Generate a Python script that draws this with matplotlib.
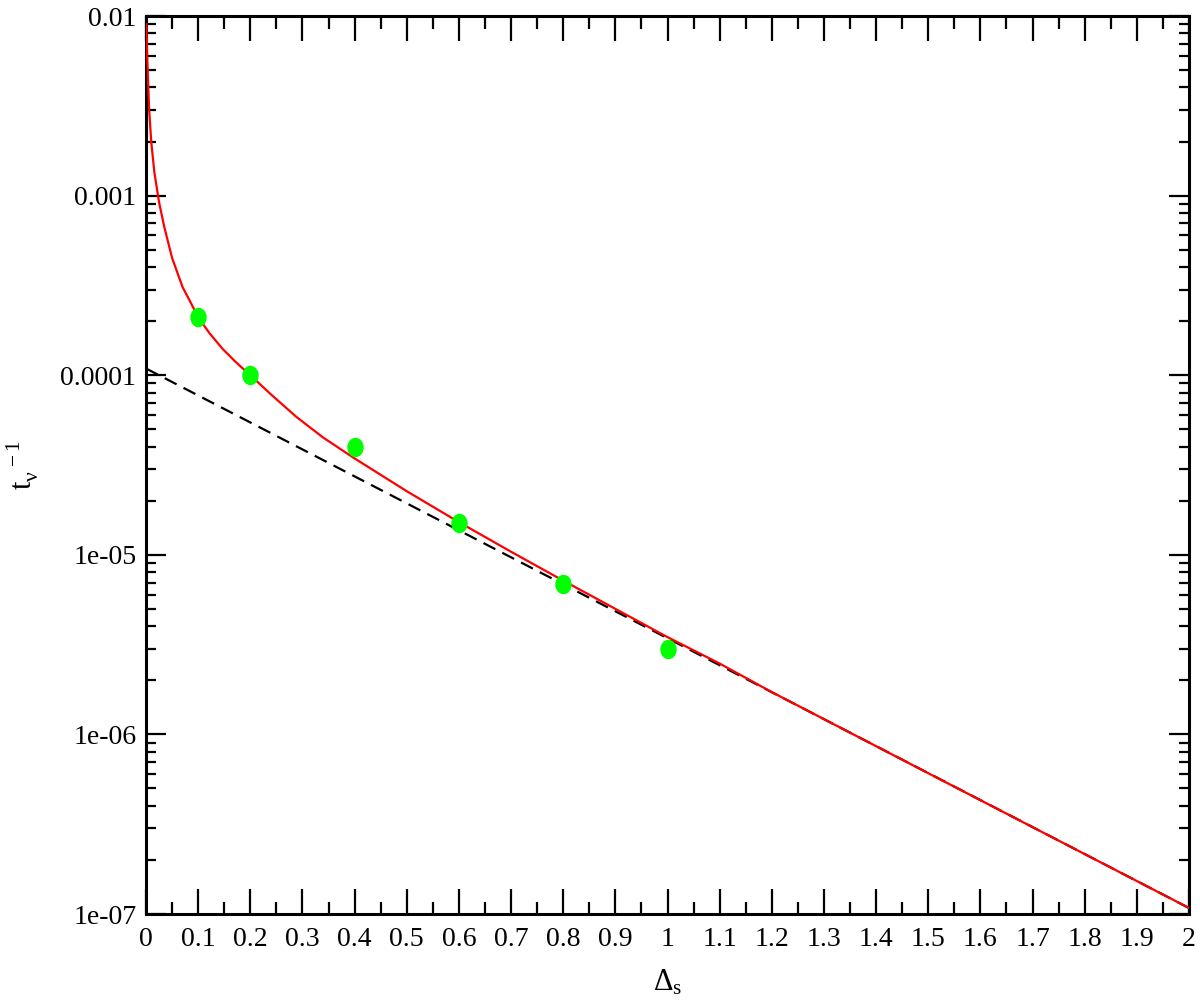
import matplotlib
matplotlib.use("Agg")
import matplotlib.pyplot as plt
from matplotlib.path import Path
from matplotlib.transforms import Affine2D
from matplotlib.ticker import FixedLocator, FixedFormatter, MultipleLocator, NullFormatter, LogLocator

# ---- data ----
points_x = [0.1, 0.2, 0.4, 0.6, 0.8, 1.0]
points_y = [2.1e-4, 1.0e-4, 4.0e-5, 1.5e-5, 6.9e-6, 3.0e-6]

fit_x = [0.0008, 0.0025, 0.0058, 0.010, 0.016, 0.025, 0.035, 0.050, 0.070, 0.085,
         0.10, 0.122, 0.147, 0.172, 0.20, 0.24, 0.288, 0.34, 0.40, 0.50,
         0.60, 0.70, 0.80, 0.90, 1.0, 1.1, 1.2, 1.5, 2.0]
fit_y = [9.0e-3, 5.7e-3, 3.1e-3, 2.0e-3, 1.35e-3, 9.2e-4, 6.7e-4, 4.5e-4, 3.1e-4, 2.56e-4,
         2.1e-4, 1.71e-4, 1.4e-4, 1.184e-4, 1.0e-4, 7.8e-5, 5.87e-5, 4.49e-5, 3.44e-5, 2.26e-5,
         1.52e-5, 1.04e-5, 7.18e-6, 5.0e-6, 3.48e-6, 2.48e-6, 1.72e-6, 6.08e-7, 1.08e-7]

asym_x = [0.0, 2.0]
asym_y = [1.09e-4, 1.08e-7]

xtick_vals = [0, 0.1, 0.2, 0.3, 0.4, 0.5, 0.6, 0.7, 0.8, 0.9, 1.0,
              1.1, 1.2, 1.3, 1.4, 1.5, 1.6, 1.7, 1.8, 1.9, 2.0]
xtick_labels = ["0", "0.1", "0.2", "0.3", "0.4", "0.5", "0.6", "0.7", "0.8", "0.9", "1",
                "1.1", "1.2", "1.3", "1.4", "1.5", "1.6", "1.7", "1.8", "1.9", "2"]
ytick_vals = [1e-2, 1e-3, 1e-4, 1e-5, 1e-6, 1e-7]
ytick_labels = ["0.01", "0.001", "0.0001", "1e-05", "1e-06", "1e-07"]

# ---- style ----
plt.rcParams['font.family'] = ['Liberation Serif', 'DejaVu Serif']
plt.rcParams['mathtext.fontset'] = 'custom'
plt.rcParams['mathtext.rm'] = 'Liberation Serif'
plt.rcParams['mathtext.it'] = 'Liberation Serif'

fig = plt.figure(figsize=(12.0, 10.07), dpi=100)
ax = fig.add_axes([146/1200, 1 - 914/1007, (1189-146)/1200, (914-16)/1007])

ax.plot(fit_x, fit_y, color='#ff0000', lw=1.6, zorder=3, clip_on=True)
ax.plot(asym_x, asym_y, color='black', lw=1.6, ls=(0, (6, 3.5)), zorder=2)

ell = Path.unit_circle().transformed(Affine2D().scale(0.83, 1.0))
ax.plot(points_x, points_y, ls='none', marker=ell, markersize=13,
        color='#00ff00', markeredgecolor='#00ff00', zorder=4)

ax.set_yscale('log')
ax.set_xlim(0, 2)
ax.set_ylim(1e-7, 1e-2)

ax.xaxis.set_major_locator(FixedLocator(xtick_vals))
ax.xaxis.set_major_formatter(FixedFormatter(xtick_labels))
ax.xaxis.set_minor_locator(MultipleLocator(0.05))
ax.yaxis.set_major_locator(FixedLocator(ytick_vals))
ax.yaxis.set_major_formatter(FixedFormatter(ytick_labels))
ax.yaxis.set_minor_locator(LogLocator(base=10, subs=range(2, 10), numticks=100))
ax.yaxis.set_minor_formatter(NullFormatter())

for s in ax.spines.values():
    s.set_linewidth(2.2)

ax.tick_params(axis='both', which='both', direction='in', top=True, right=True,
               width=1.6, labelsize=20)
ax.tick_params(axis='x', which='major', length=18, pad=9)
ax.tick_params(axis='x', which='minor', length=9)
ax.tick_params(axis='y', which='major', length=14.5, pad=7)
ax.tick_params(axis='y', which='minor', length=7.5)

ax.set_xlabel(r'$\Delta_{\mathrm{s}}$', fontsize=22, labelpad=12)
ax.set_ylabel(r'$\mathrm{t}_{\nu}^{\ \ -1}$', fontsize=22, labelpad=14)

fig.savefig('out.png', dpi=100)
